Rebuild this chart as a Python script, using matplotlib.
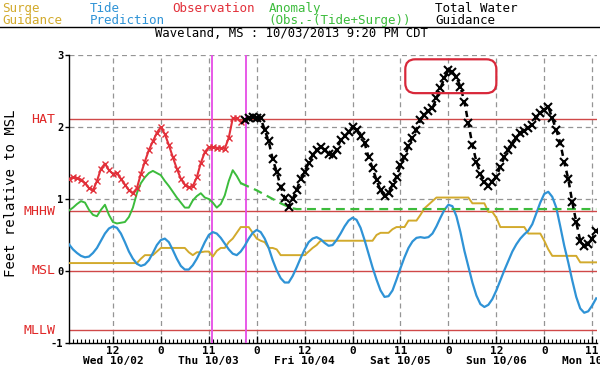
import numpy as np
import matplotlib
matplotlib.use("Agg")
import matplotlib.pyplot as plt
from matplotlib.patches import FancyBboxPatch

MONO = "DejaVu Sans Mono"
plt.rcParams["font.family"] = MONO

# hours counted from Wed 10/02 00:00
obs_start = 1
obs_ft = [1.28, 1.30, 1.29, 1.27, 1.22, 1.15, 1.12, 1.25, 1.42, 1.49,
          1.40, 1.35, 1.36, 1.28, 1.20, 1.12, 1.08, 1.15, 1.35, 1.52,
          1.68, 1.80, 1.92, 2.00, 1.90, 1.75, 1.58, 1.42, 1.28, 1.20,
          1.16, 1.18, 1.30, 1.50, 1.65, 1.72, 1.72, 1.71, 1.71, 1.70,
          1.85, 2.12, 2.12, 2.07, 2.10]

twl_start = 45
twl_ft = [2.10, 2.13, 2.14, 2.13, 2.12, 1.96, 1.80, 1.55, 1.38, 1.17,
          1.01, 0.89, 1.00, 1.12, 1.28, 1.38, 1.50, 1.61, 1.68, 1.72,
          1.68, 1.63, 1.61, 1.68, 1.82, 1.87, 1.93, 2.00, 1.96, 1.88,
          1.78, 1.58, 1.43, 1.26, 1.12, 1.04, 1.08, 1.20, 1.31, 1.47,
          1.58, 1.74, 1.85, 1.96, 2.10, 2.17, 2.22, 2.26, 2.40, 2.54,
          2.68, 2.79, 2.76, 2.69, 2.56, 2.35, 2.05, 1.75, 1.52, 1.35,
          1.24, 1.18, 1.24, 1.31, 1.45, 1.58, 1.68, 1.76, 1.85, 1.91,
          1.95, 1.99, 2.03, 2.14, 2.19, 2.24, 2.28, 2.12, 1.96, 1.78,
          1.51, 1.28, 0.96, 0.68, 0.42, 0.35, 0.38, 0.45, 0.55]

anom_start = 1
anom_ft = [0.84, 0.88, 0.93, 0.97, 0.95, 0.85, 0.78, 0.76, 0.85, 0.92,
           0.78, 0.68, 0.66, 0.67, 0.68, 0.75, 0.88, 1.08, 1.22, 1.30,
           1.36, 1.39, 1.36, 1.33, 1.25, 1.18, 1.10, 1.02, 0.95, 0.88,
           0.88, 0.98, 1.04, 1.08, 1.02, 1.00, 0.95, 0.88, 0.93, 1.05,
           1.25, 1.40, 1.32, 1.22]

anom_fc_hours = [44, 46, 48, 50, 52, 54, 56, 57, 58, 133]
anom_fc_ft = [1.22, 1.17, 1.12, 1.06, 1.00, 0.94, 0.89, 0.87, 0.86, 0.86]

tide_start = 1
tide_ft = [0.37, 0.30, 0.25, 0.21, 0.19, 0.20, 0.25, 0.32, 0.42, 0.52,
           0.59, 0.62, 0.60, 0.52, 0.40, 0.27, 0.17, 0.10, 0.07, 0.09,
           0.15, 0.25, 0.36, 0.43, 0.45, 0.40, 0.29, 0.17, 0.07, 0.02,
           0.02, 0.08, 0.17, 0.28, 0.40, 0.50, 0.54, 0.52, 0.46, 0.38,
           0.30, 0.24, 0.22, 0.27, 0.35, 0.45, 0.53, 0.57, 0.54, 0.45,
           0.32, 0.15, 0.01, -0.10, -0.16, -0.16, -0.07, 0.05, 0.18, 0.30,
           0.40, 0.45, 0.47, 0.44, 0.39, 0.35, 0.36, 0.43, 0.52, 0.62,
           0.70, 0.74, 0.71, 0.60, 0.43, 0.24, 0.05, -0.12, -0.27, -0.36,
           -0.35, -0.27, -0.12, 0.04, 0.19, 0.32, 0.41, 0.46, 0.47, 0.46,
           0.47, 0.52, 0.62, 0.74, 0.85, 0.92, 0.90, 0.76, 0.54, 0.28,
           0.06, -0.16, -0.34, -0.46, -0.50, -0.47, -0.39, -0.27, -0.13, 0.01,
           0.14, 0.27, 0.37, 0.45, 0.51, 0.56, 0.65, 0.80, 0.95, 1.07,
           1.10, 1.03, 0.88, 0.62, 0.35, 0.12, -0.13, -0.36, -0.52, -0.58,
           -0.56, -0.48, -0.38]

surge_start = 1
surge_ft = [0.11, 0.11, 0.11, 0.11, 0.11, 0.11, 0.11, 0.11, 0.11, 0.11,
            0.11, 0.11, 0.11, 0.11, 0.11, 0.11, 0.11, 0.11, 0.17, 0.22,
            0.22, 0.22, 0.27, 0.32, 0.32, 0.32, 0.32, 0.32, 0.32, 0.32,
            0.26, 0.22, 0.26, 0.26, 0.27, 0.27, 0.20, 0.28, 0.32, 0.32,
            0.40, 0.45, 0.53, 0.61, 0.61, 0.61, 0.53, 0.45, 0.42, 0.40,
            0.32, 0.32, 0.30, 0.22, 0.22, 0.22, 0.22, 0.22, 0.22, 0.22,
            0.27, 0.32, 0.36, 0.42, 0.42, 0.42, 0.42, 0.42, 0.42, 0.42,
            0.42, 0.42, 0.42, 0.42, 0.42, 0.42, 0.42, 0.50, 0.53, 0.53,
            0.53, 0.58, 0.61, 0.61, 0.61, 0.70, 0.70, 0.70, 0.78, 0.87,
            0.92, 0.97, 1.02, 1.02, 1.02, 1.02, 1.02, 1.02, 1.02, 1.02,
            1.02, 0.94, 0.94, 0.94, 0.94, 0.82, 0.82, 0.74, 0.61, 0.61,
            0.61, 0.61, 0.61, 0.61, 0.61, 0.52, 0.52, 0.52, 0.52, 0.42,
            0.30, 0.21, 0.21, 0.21, 0.21, 0.21, 0.21, 0.21, 0.12, 0.12,
            0.12, 0.12, 0.12]

datums = ["HAT", "MHHW", "MSL", "MLLW"]
datum_ft = [2.11, 0.83, 0.0, -0.82]

now_lines = [36.8, 45.33]

tick_hours = [12, 24, 36, 48, 60, 72, 84, 96, 108, 120, 132]
tick_text = ["12", "0", "11", "0", "12", "0", "11", "0", "12", "0", "11"]
day_text = {12: "Wed 10/02", 36: "Thu 10/03", 60: "Fri 10/04",
            84: "Sat 10/05", 108: "Sun 10/06", 132: "Mon 10/07"}

legend_items = [("Surge\nGuidance", "#d2aa2c", 0.004),
                ("Tide\nPrediction", "#2f93d6", 0.150),
                ("Observation", "#e2303a", 0.287),
                ("Anomaly\n(Obs.-(Tide+Surge))", "#3cbc3c", 0.448),
                ("Total Water\nGuidance", "#000000", 0.725)]

def hours(start, vals):
    return np.arange(start, start + len(vals))

fig = plt.figure(figsize=(6.0, 3.69), dpi=100)
ax = fig.add_axes([0.115, 0.0705, 0.880, 0.7805])

ax.set_xlim(1, 133.2)
ax.set_ylim(-1, 3)

# grid
for h in tick_hours:
    ax.axvline(h, color="#959595", lw=0.9, ls=(0, (4, 3)), zorder=1)
for v in [1, 2, 3]:
    ax.axhline(v, color="#959595", lw=0.9, ls=(0, (4, 3)), zorder=1)

# datum lines
for name, v in zip(datums, datum_ft):
    ax.axhline(v, color="#d04848", lw=1.0, zorder=2)
    ax.text(-0.026, v, name, transform=ax.get_yaxis_transform(),
            ha="right", va="center", color="#e02828", fontsize=9.5)

for h in now_lines:
    ax.axvline(h, color="#e64ce6", lw=1.3, zorder=3)

ax.plot(hours(surge_start, surge_ft), surge_ft, color="#d2aa2c", lw=1.4, zorder=4)
ax.plot(hours(tide_start, tide_ft), tide_ft, color="#2f93d6", lw=1.6, zorder=5)
ax.plot(hours(anom_start, anom_ft), anom_ft, color="#3cbc3c", lw=1.4, zorder=5)
ax.plot(anom_fc_hours, anom_fc_ft, color="#3cbc3c", lw=1.6,
        ls=(0, (4, 2.5)), zorder=5)
ax.plot(hours(obs_start, obs_ft), obs_ft, color="#e2303a", lw=1.5,
        marker="x", ms=4.5, mew=1.0, zorder=6)
ax.plot(hours(twl_start, twl_ft), twl_ft, color="black", lw=1.8,
        ls=(0, (2.5, 1.8)), marker="x", ms=5.5, mew=1.5, zorder=7)

# highlight box around the peak
box = FancyBboxPatch((85.2, 2.47), 22.8, 0.47,
                     boxstyle="round,pad=0,rounding_size=2.5",
                     mutation_aspect=4 / 72, fill=False,
                     edgecolor="#d8283a", lw=1.6, zorder=8)
ax.add_patch(box)

# axes styling
for s in ["top", "right"]:
    ax.spines[s].set_visible(False)
ax.spines["left"].set_linewidth(1.0)
ax.spines["bottom"].set_linewidth(1.0)

ax.set_yticks([-1, 0, 1, 2, 3])
ax.set_yticklabels(["-1", "0", "1", "2", "3"], fontsize=7.5, fontweight="bold")
ax.tick_params(axis="y", length=3, width=1, pad=1)

labels = [t + ("\n" + day_text[h] if h in day_text else "")
          for h, t in zip(tick_hours, tick_text)]
ax.set_xticks(tick_hours)
ax.set_xticklabels(labels, fontsize=8, fontweight="bold", linespacing=1.0)
ax.set_xticks(np.arange(2, 134, 1), minor=True)
ax.tick_params(axis="x", which="major", direction="in", length=5, width=1, pad=2)
ax.tick_params(axis="x", which="minor", direction="in", length=3, width=0.8)

fig.text(0.018, 0.475, "Feet relative to MSL", rotation=90,
         ha="center", va="center", fontsize=10)

fig.text(0.485, 0.910, "Waveland, MS : 10/03/2013 9:20 PM CDT",
         ha="center", va="center", fontsize=8.8)

for txt, col, x in legend_items:
    fig.text(x, 0.995, txt, color=col, ha="left", va="top",
             fontsize=9, linespacing=0.95)
fig.add_artist(plt.Line2D([0, 1], [0.928, 0.928], color="black", lw=1.0,
                          transform=fig.transFigure))

fig.savefig("out.png", dpi=100)
